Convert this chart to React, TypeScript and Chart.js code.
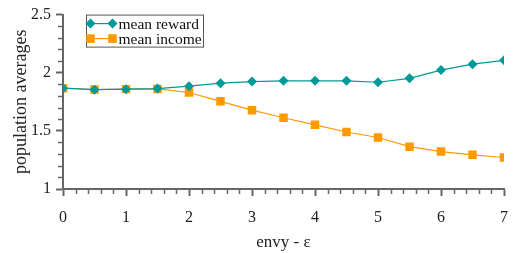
import React, { useEffect, useRef } from "react";
import { Chart, registerables } from "chart.js";

Chart.register(...registerables);

const envy = [0, 0.5, 1, 1.5, 2, 2.5, 3, 3.5, 4, 4.5, 5, 5.5, 6, 6.5, 7];
const meanReward = [1.867, 1.854, 1.859, 1.864, 1.884, 1.91, 1.924, 1.93, 1.93, 1.93, 1.918, 1.952, 2.023, 2.074, 2.107];
const meanIncome = [1.867, 1.856, 1.859, 1.861, 1.83, 1.754, 1.678, 1.613, 1.552, 1.49, 1.443, 1.364, 1.322, 1.294, 1.271];
const yTickLabels = ["1", "1.5", "2", "2.5"];
const seriesNames = ["mean reward", "mean income"];
const xTitle = "envy - \u03b5";
const yTitle = "population averages";

const TEAL = "#009999";
const ORANGE = "#FF9900";
const AXIS = "#666666";
const FONT = "'Liberation Serif', 'Times New Roman', serif";

function drawMarker(ctx: CanvasRenderingContext2D, style: string, x: number, y: number, color: string) {
  ctx.save();
  ctx.fillStyle = color;
  ctx.beginPath();
  if (style === "rectRot") {
    const r = 5;
    ctx.moveTo(x - r, y);
    ctx.lineTo(x, y - r);
    ctx.lineTo(x + r, y);
    ctx.lineTo(x, y + r);
    ctx.closePath();
  } else {
    const s = 4.3;
    ctx.rect(x - s, y - s, 2 * s, 2 * s);
  }
  ctx.fill();
  ctx.restore();
}

const customPlugin = {
  id: "custom",
  afterDraw(chart: any) {
    const ctx: CanvasRenderingContext2D = chart.ctx;
    const xs = chart.scales.x;
    const ys = chart.scales.y;
    const ca = chart.chartArea;
    ctx.save();
    // minor ticks
    ctx.strokeStyle = AXIS;
    ctx.lineWidth = 1.5;
    for (let i = 10; i <= 25; i++) {
      if (i % 5 === 0) continue;
      const py = Math.round(ys.getPixelForValue(i / 10)) + 0.5;
      ctx.beginPath();
      ctx.moveTo(ca.left - 5, py);
      ctx.lineTo(ca.left, py);
      ctx.stroke();
    }
    for (let i = 0; i <= 35; i++) {
      if (i % 5 === 0) continue;
      const px = Math.round(xs.getPixelForValue(i / 5)) + 0.5;
      ctx.beginPath();
      ctx.moveTo(px, ca.bottom);
      ctx.lineTo(px, ca.bottom + 5);
      ctx.stroke();
    }
    // y axis title
    ctx.save();
    ctx.translate(21, (ca.top + ca.bottom) / 2);
    ctx.rotate(-Math.PI / 2);
    ctx.font = "18px " + FONT;
    ctx.fillStyle = "#222";
    ctx.textAlign = "center";
    ctx.textBaseline = "middle";
    ctx.fillText(yTitle, 0, 0);
    ctx.restore();
    // legend
    const bx = ca.left + 23.5;
    const by = ca.top + 0.5;
    const bw = 117;
    const bh = 32;
    ctx.fillStyle = "#ffffff";
    ctx.fillRect(bx, by, bw, bh);
    ctx.strokeStyle = "#555555";
    ctx.lineWidth = 1;
    ctx.strokeRect(bx, by, bw, bh);
    const rows = [
      { name: seriesNames[0], color: TEAL, style: "rectRot" },
      { name: seriesNames[1], color: ORANGE, style: "rect" },
    ];
    ctx.font = "15.5px " + FONT;
    ctx.textBaseline = "middle";
    ctx.textAlign = "left";
    rows.forEach((r, i) => {
      const y = by + 8.5 + i * 15;
      const x0 = bx + 4;
      const x1 = bx + 26;
      ctx.strokeStyle = r.color;
      ctx.lineWidth = 1.2;
      ctx.beginPath();
      ctx.moveTo(x0, y);
      ctx.lineTo(x1, y);
      ctx.stroke();
      drawMarker(ctx, r.style, x0, y, r.color);
      drawMarker(ctx, r.style, x1, y, r.color);
      ctx.fillStyle = "#111111";
      ctx.fillText(r.name, bx + 32, y + 1);
    });
    ctx.restore();
  },
};

export default function App() {
  const ref = useRef<HTMLCanvasElement | null>(null);
  useEffect(() => {
    document.body.style.margin = "0";
    const canvas = ref.current;
    if (!canvas) return;
    const chart = new Chart(canvas, {
      type: "line",
      data: {
        datasets: [
          {
            label: seriesNames[0],
            data: envy.map((x, i) => ({ x, y: meanReward[i] })),
            borderColor: TEAL,
            backgroundColor: TEAL,
            borderWidth: 1.2,
            pointStyle: "rectRot",
            pointRadius: 5,
            pointBorderWidth: 0,
            tension: 0,
          },
          {
            label: seriesNames[1],
            data: envy.map((x, i) => ({ x, y: meanIncome[i] })),
            borderColor: ORANGE,
            backgroundColor: ORANGE,
            borderWidth: 1.2,
            pointStyle: "rect",
            pointRadius: 6,
            pointBorderWidth: 0,
            tension: 0,
          },
        ],
      },
      options: {
        responsive: false,
        animation: false,
        devicePixelRatio: 1,
        layout: { padding: { top: 12, right: 13, left: 0, bottom: 0 } },
        font: { family: FONT },
        plugins: {
          legend: { display: false },
          tooltip: { enabled: false },
        },
        scales: {
          x: {
            type: "linear",
            min: 0,
            max: 7,
            ticks: { stepSize: 1, color: "#222", font: { family: FONT, size: 16 }, padding: 12, maxRotation: 0 },
            grid: { drawOnChartArea: false, drawTicks: true, tickLength: 7, color: AXIS, tickWidth: 2 },
            border: { color: AXIS, width: 2 },
            title: { display: true, text: xTitle, color: "#222", font: { family: FONT, size: 17 }, padding: { top: 2, bottom: 0 } },
            afterFit(scale: any) { scale.height = 64; },
          },
          y: {
            min: 1,
            max: 2.5,
            ticks: {
              stepSize: 0.5,
              color: "#222",
              font: { family: FONT, size: 16 },
              padding: 5,
              callback: (_v: any, i: number) => yTickLabels[i],
            },
            grid: { drawOnChartArea: false, drawTicks: true, tickLength: 7, color: AXIS, tickWidth: 2 },
            border: { color: AXIS, width: 2 },
            title: { display: false },
            afterFit(scale: any) { scale.width = 63; },
          },
        },
      } as any,
      plugins: [customPlugin],
    });
    return () => chart.destroy();
  }, []);
  return <canvas ref={ref} width={520} height={253} style={{ width: 520, height: 253, display: "block" }} />;
}
